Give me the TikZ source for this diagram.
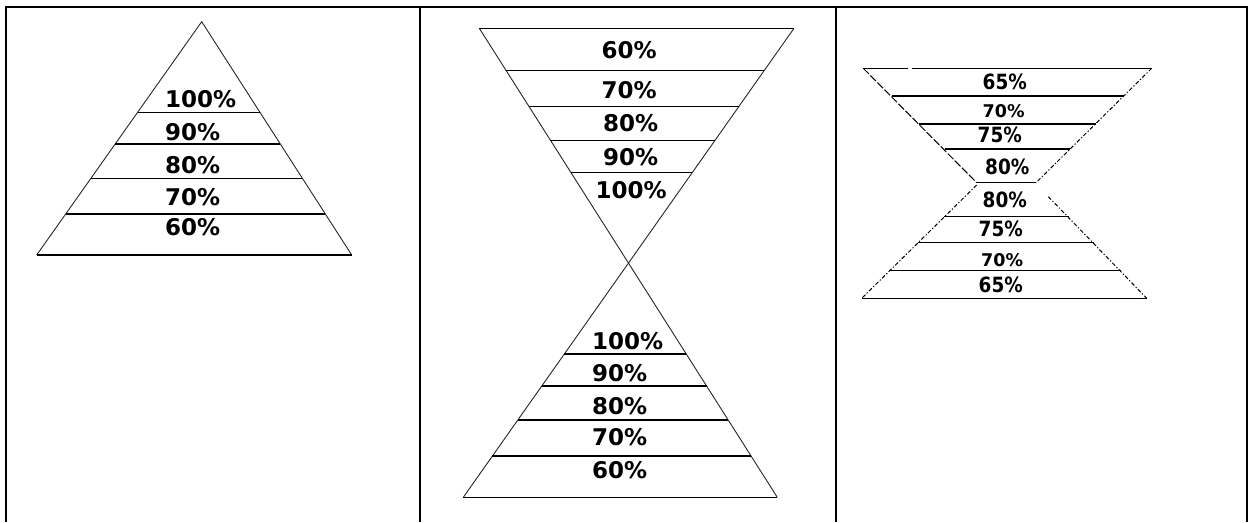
\documentclass[tikz,border=0pt]{standalone}
\usepackage{fontspec}
\setmainfont{DejaVu Sans}
\newfontfamily\condfont{DejaVu Sans}[FakeStretch=0.88]
\begin{document}
\begin{tikzpicture}[x=1pt,y=-1pt,
  frameline/.style={line width=2pt},
  topline/.style={line width=1.1pt},
  side/.style={line width=0.9pt, black!85},
  band/.style={line width=1.4pt},
  dside/.style={line width=1pt, black, dash pattern=on 8pt off 2pt},
  dotside/.style={line width=1pt, black, dash pattern=on 4pt off 2pt on 1.2pt off 2pt},
  lab/.style={anchor=west, inner sep=0pt, font=\fontsize{23}{23}\selectfont\bfseries},
  labc/.style={anchor=west, inner sep=0pt, font=\fontsize{21}{21}\condfont\bfseries},
  labs/.style={anchor=west, inner sep=0pt, font=\fontsize{17.5}{18}\selectfont\bfseries}]
\useasboundingbox (0,0) rectangle (1249,522);
% frame
\draw[topline] (5,7) -- (1248,7);
\draw[frameline] (6,6.5) -- (6,522);
\draw[frameline] (420,6.5) -- (420,522);
\draw[frameline] (835.5,6.5) -- (835.5,522);
\draw[frameline] (1247,6.5) -- (1247,522);

% ---------- panel 1 : pyramid ----------
\coordinate (A1) at (201.7,21.7);
\coordinate (L1) at (36.7,255);
\coordinate (R1) at (351.7,255);
\draw[side] (L1) -- (A1) -- (R1);
\draw[band] (L1) -- (R1);
\draw[band] (137.6,112.3) -- (260,112.3);
\draw[band] (115.2,144) -- (280.3,144);
\draw[band] (91,178.3) -- (302.4,178.3);
\draw[band] (65.7,214) -- (325.3,214);
\node[lab] (p1a) at (165,99) {100\%};
\node[lab] (p1b) at (165,131.7) {90\%};
\node[lab] (p1c) at (165,165) {80\%};
\node[lab] (p1d) at (165,196.7) {70\%};
\node[lab] (p1e) at (165,226.7) {60\%};

% ---------- panel 2 : hourglass ----------
\coordinate (P1) at (479.3,28.3);
\coordinate (P2) at (777.3,497.3);
\coordinate (Q1) at (794,28.3);
\coordinate (Q2) at (463.3,497.3);
\draw[side] (P1) -- (P2);
\draw[side] (Q1) -- (Q2);
\draw[band] (P1) -- (Q1);
\draw[band] (506.2,70.7) -- (764.1,70.7);
\draw[band] (529.1,106.7) -- (738.7,106.7);
\draw[band] (550.7,140.7) -- (714.7,140.7);
\draw[band] (571.1,172.7) -- (692.2,172.7);
\draw[band] (564.3,354) -- (686.3,354);
\draw[band] (541.8,386) -- (706.6,386);
\draw[band] (517.8,420) -- (728.2,420);
\draw[band] (492.4,456) -- (751.1,456);
\draw[band] (Q2) -- (P2);
\node[lab] (p2a) at (601.5,50.5) {60\%};
\node[lab] (p2b) at (601.5,90) {70\%};
\node[lab] (p2c) at (603,123.3) {80\%};
\node[lab] (p2d) at (603,157.5) {90\%};
\node[lab] (p2e) at (595.5,190.5) {100\%};
\node[lab] (p2f) at (592,341) {100\%};
\node[lab] (p2g) at (592,373) {90\%};
\node[lab] (p2h) at (592,405.8) {80\%};
\node[lab] (p2i) at (592,437.5) {70\%};
\node[lab] (p2j) at (592,470) {60\%};

% ---------- panel 3 : double trapezoid ----------
\draw[band] (863.3,68.3) -- (908.3,68.3);
\draw[band] (911.7,68.3) -- (1151.7,68.3);
\draw[dside] (863.3,68.3) -- (976.7,182.7);
\draw[dotside] (1151.7,68.3) -- (1036,182.7);
\draw[band] (891.5,96) -- (1123.7,96);
\draw[band] (919,124) -- (1096,124);
\draw[band] (944.5,149) -- (1070.1,149);
\draw[band] (976.7,182.7) -- (1036,182.7);
\draw[dotside] (976.7,185) -- (861.7,298.3);
\draw[dotside] (1048.3,196.7) -- (1146.7,298.3);
\draw[band] (944,216.7) -- (1069,216.7);
\draw[band] (917.7,242.7) -- (1094,242.7);
\draw[band] (890,270.7) -- (1121,270.7);
\draw[band] (861.7,298.3) -- (1146.7,298.3);
\node[labc] (p3a) at (982.5,81.7) {65\%};
\node[labs] (p3b) at (982.5,110.7) {70\%};
\node[labc] (p3c) at (977.5,135) {75\%};
\node[labc] (p3d) at (985,166.7) {80\%};
\node[labc] (p3e) at (982.5,200) {80\%};
\node[labc] (p3f) at (978.5,228.7) {75\%};
\node[labs] (p3g) at (981,260) {70\%};
\node[labc] (p3h) at (978.5,285) {65\%};
\end{tikzpicture}
\end{document}
